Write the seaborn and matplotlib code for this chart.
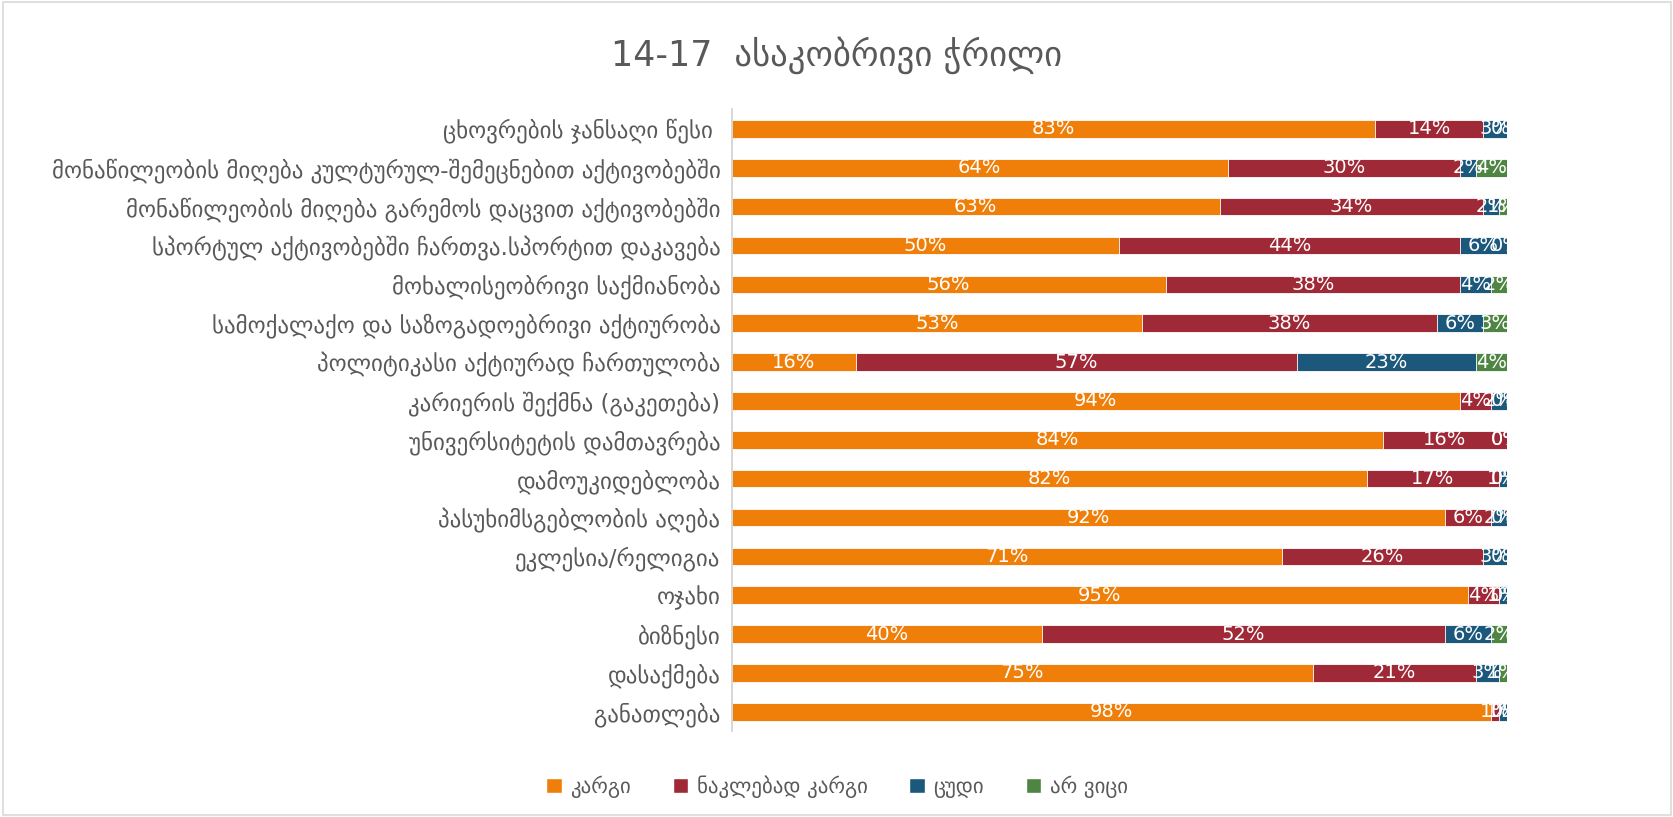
import numpy as np
import pandas as pd
import matplotlib
matplotlib.use('Agg')
import matplotlib.pyplot as plt
import seaborn as sns
from matplotlib.patches import Patch

# categories, top to bottom
categories = [
    'ცხოვრების ჯანსაღი წესი ',
    'მონაწილეობის მიღება კულტურულ-შემეცნებით აქტივობებში',
    'მონაწილეობის მიღება გარემოს დაცვით აქტივობებში',
    'სპორტულ აქტივობებში ჩართვა.სპორტით დაკავება',
    'მოხალისეობრივი საქმიანობა',
    'სამოქალაქო და საზოგადოებრივი აქტიურობა',
    'პოლიტიკასი აქტიურად ჩართულობა',
    'კარიერის შექმნა (გაკეთება)',
    'უნივერსიტეტის დამთავრება',
    'დამოუკიდებლობა',
    'პასუხიმსგებლობის აღება',
    'ეკლესია/რელიგია',
    'ოჯახი',
    'ბიზნესი',
    'დასაქმება',
    'განათლება',
]

# series values (%)
kargi = [83, 64, 63, 50, 56, 53, 16, 94, 84, 82, 92, 71, 95, 40, 75, 98]
naklebad = [14, 30, 34, 44, 38, 38, 57, 4, 16, 17, 6, 26, 4, 52, 21, 1]
tsudi = [3, 2, 2, 6, 4, 6, 23, 2, 0, 1, 2, 3, 1, 6, 3, 1]
ar_vitsi = [0, 4, 1, 0, 2, 3, 4, 0, 0, 0, 0, 0, 0, 2, 1, 0]

series_names = ['კარგი', 'ნაკლებად კარგი', 'ცუდი', 'არ ვიცი']
colors = ['#F07F09', '#9F2936', '#1B587C', '#4E8542']

df = pd.DataFrame({'cat': categories, 's1': kargi, 's2': naklebad,
                   's3': tsudi, 's4': ar_vitsi})
df['c1'] = df['s1']
df['c2'] = df['c1'] + df['s2']
df['c3'] = df['c2'] + df['s3']
df['c4'] = df['c3'] + df['s4']

sns.set_style('white')
plt.rcParams['font.family'] = ['DejaVu Sans']
txt_color = '#595959'

fig = plt.figure(figsize=(16.74, 8.17), dpi=100)
ax = fig.add_axes([0.437, 0.105, 0.463, 0.761])

# stacked by overlaying cumulative totals, largest first
for col, color in zip(['c4', 'c3', 'c2', 'c1'], colors[::-1]):
    sns.barplot(data=df, x=col, y='cat', color=color, orient='h',
                width=0.45, ax=ax, saturation=1, edgecolor='white', linewidth=0.6)

# data labels centred on each segment
for i, row in df.iterrows():
    start = 0
    for s in ['s1', 's2', 's3', 's4']:
        v = row[s]
        ax.text(start + v / 2, i, f'{v}%', ha='center', va='center',
                color='white', fontsize=14)
        start += v

ax.set_xlim(0, 100)
ax.set_xlabel('')
ax.set_ylabel('')
ax.set_xticks([])
ax.tick_params(axis='y', length=0, labelsize=16.5, labelcolor=txt_color, pad=8)
for sp in ['top', 'right', 'bottom']:
    ax.spines[sp].set_visible(False)
ax.spines['left'].set_color('#D0D0D0')
ax.spines['left'].set_linewidth(1.2)

fig.suptitle('14-17  ასაკობრივი ჭრილი', y=0.955, fontsize=25, color=txt_color)

handles = [Patch(facecolor=c, label=n) for c, n in zip(colors, series_names)]
fig.legend(handles=handles, loc='center', bbox_to_anchor=(0.5, 0.037), ncol=4,
           frameon=False, fontsize=15, labelcolor=txt_color,
           handlelength=0.75, handleheight=0.75, handletextpad=0.4, columnspacing=2.0)

fig.patches.append(plt.Rectangle((0.002, 0.003), 0.996, 0.994, transform=fig.transFigure,
                                 fill=False, edgecolor='#D9D9D9', linewidth=1.2))

fig.savefig('out.png', dpi=100)
